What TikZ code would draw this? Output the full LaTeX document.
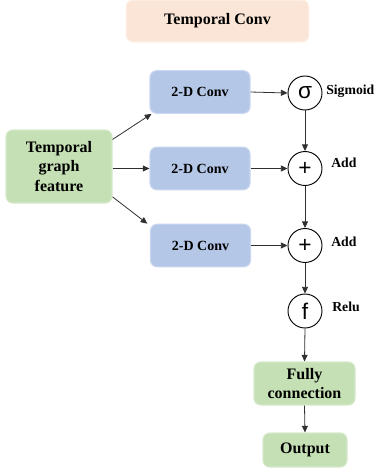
\documentclass[tikz,border=0pt]{standalone}
\usepackage{fontspec}
\setmainfont{Liberation Serif}
\newfontfamily\symfont{Liberation Sans}
\usetikzlibrary{arrows.meta}
\definecolor{peach}{HTML}{FBE5D6}
\definecolor{peachb}{HTML}{FDF1E9}
\definecolor{bluebox}{HTML}{B4C7E7}
\definecolor{blueb}{HTML}{C9D6EE}
\definecolor{greenbox}{HTML}{C5E0B4}
\definecolor{greenb}{HTML}{D6E9CA}
\definecolor{linec}{HTML}{303030}
\tikzset{
  box/.style={rounded corners=5pt, line width=0.8pt, align=center, inner sep=0pt,
    font=\bfseries},
  peachbox/.style={box, fill=peach, draw=peachb},
  convbox/.style={box, fill=bluebox, draw=blueb, minimum width=75pt, minimum height=32pt,
    font=\bfseries\fontsize{10.5}{12}\selectfont},
  greenbx/.style={box, fill=greenbox, draw=greenb,
    font=\bfseries\fontsize{12}{14.6}\selectfont},
  op/.style={circle, draw=black, line width=0.7pt, minimum size=25.5pt, inner sep=0pt,
    font=\symfont\fontsize{17}{17}\selectfont},
  lab/.style={anchor=west, inner sep=0pt, font=\bfseries\fontsize{10.3}{12}\selectfont},
  arr/.style={-{Triangle[length=5pt,width=4.5pt]}, draw=linec, line width=0.6pt}
}
\begin{document}
\begin{tikzpicture}[x=0.75pt,y=-0.75pt]
\useasboundingbox (0,0) rectangle (375,472);
\node[peachbox, minimum width=137pt, minimum height=31.5pt,
  font=\bfseries\fontsize{12}{14}\selectfont] (tc) at (217.5,21) {Temporal Conv};
\node[convbox] (c1) at (200,92) {2-D Conv};
\node[convbox] (c2) at (200,168.5) {2-D Conv};
\node[convbox] (c3) at (200.5,245.5) {2-D Conv};
\node[greenbx, minimum width=79.5pt, minimum height=54.75pt] (feat) at (59,166.5)
  {Temporal\\graph\\feature};
\node[op] (sig) at (305,93) {\raisebox{1pt}{σ}};
\node[op] (add1) at (305,168.5) {+};
\node[op] (add2) at (305,245.5) {+};
\node[op] (fr) at (305,311) {f};
\node[lab] (lsig) at (326,91) {Sigmoid};
\node[lab] (ladd1) at (331,163) {Add};
\node[lab] (ladd2) at (331,242) {Add};
\node[lab] (lrelu) at (332,307) {Relu};
\node[greenbx, minimum width=75.75pt, minimum height=32.25pt] (fc) at (304.5,383.5)
  {Fully\\connection};
\node[greenbx, minimum width=63pt, minimum height=25.5pt] (out) at (305,450) {Output};
\draw[arr] ([yshift=-7.5pt]feat.north east) -- ([xshift=1.5pt]c1.south west);
\draw[arr] (feat.east |- c2.west) -- (c2.west);
\draw[arr] ([yshift=5pt]feat.south east) -- ([xshift=-2pt]c3.north west);
\draw[arr] (c1.east) -- (sig.west);
\draw[arr] (c2.east) -- (add1.west);
\draw[arr] (c3.east) -- (add2.west);
\draw[arr] (sig.south) -- (add1.north);
\draw[arr] (add1.south) -- (add2.north);
\draw[arr] (add2.south) -- (fr.north);
\draw[arr] (fr.south) -- (fc.north);
\draw[arr] (fc.south) -- (out.north);
\end{tikzpicture}
\end{document}
